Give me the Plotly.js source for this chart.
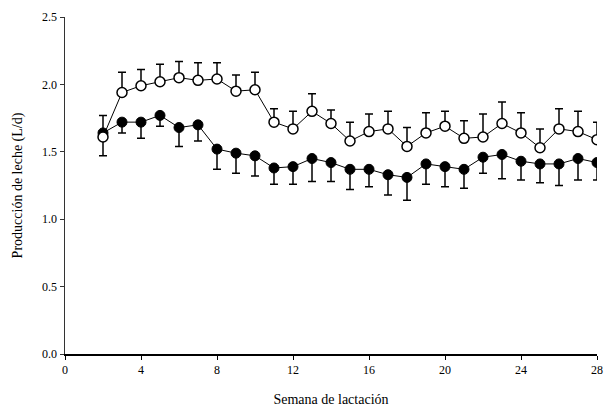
<!DOCTYPE html>
<html>
<head>
<meta charset="utf-8">
<script src="https://cdn.plot.ly/plotly-3.0.1.min.js"></script>
<style>html,body{margin:0;padding:0;background:#fff}#chart{width:606px;height:412px}</style>
</head>
<body>
<div id="chart"></div>
<script>
var weeks = [2,3,4,5,6,7,8,9,10,11,12,13,14,15,16,17,18,19,20,21,22,23,24,25,26,27,28];
var openMean = [1.61,1.94,1.99,2.02,2.05,2.03,2.04,1.95,1.96,1.72,1.67,1.80,1.71,1.58,1.65,1.67,1.54,1.64,1.69,1.60,1.61,1.71,1.64,1.53,1.67,1.65,1.59];
var openErr  = [0.16,0.15,0.12,0.13,0.12,0.13,0.12,0.12,0.13,0.10,0.13,0.13,0.10,0.14,0.13,0.13,0.14,0.15,0.11,0.13,0.17,0.16,0.15,0.14,0.15,0.15,0.13];
var filledMean = [1.64,1.72,1.72,1.77,1.68,1.70,1.52,1.49,1.47,1.38,1.39,1.45,1.42,1.37,1.37,1.33,1.31,1.41,1.39,1.37,1.46,1.48,1.43,1.41,1.41,1.45,1.42];
var filledErr  = [0.17,0.08,0.12,0.08,0.14,0.12,0.15,0.15,0.15,0.12,0.13,0.17,0.14,0.15,0.13,0.15,0.17,0.15,0.15,0.14,0.12,0.18,0.14,0.14,0.16,0.16,0.13];
var xTicks = [0,4,8,12,16,20,24,28];
var yTicks = [0,0.5,1.0,1.5,2.0,2.5];
var yTickText = ['0.0','0.5','1.0','1.5','2.0','2.5'];

var zeros = weeks.map(function(){return 0;});

var traces = [
  {
    x: weeks, y: filledMean, type: 'scatter', mode: 'lines+markers',
    line: {color: '#000', width: 1},
    marker: {symbol: 'circle', size: 10, color: '#000', line: {color: '#000', width: 1}},
    error_y: {type: 'data', symmetric: false, array: zeros, arrayminus: filledErr, color: '#000', thickness: 1.5, width: 4},
    showlegend: false, hoverinfo: 'x+y'
  },
  {
    x: weeks, y: openMean, type: 'scatter', mode: 'lines+markers',
    line: {color: '#000', width: 1},
    marker: {symbol: 'circle', size: 10, color: '#fff', line: {color: '#000', width: 1.5}},
    error_y: {type: 'data', symmetric: false, array: openErr, arrayminus: zeros, color: '#000', thickness: 1.5, width: 4},
    showlegend: false, hoverinfo: 'x+y'
  }
];

var fam = '"Liberation Serif", "Times New Roman", serif';
var tickFont = {family: fam, size: 12, color: '#000'};

var layout = {
  width: 606, height: 412,
  margin: {l: 65, r: 9, t: 17, b: 58},
  paper_bgcolor: '#fff', plot_bgcolor: '#fff',
  font: tickFont,
  showlegend: false,
  xaxis: {
    range: [0, 28], tickvals: xTicks, ticktext: xTicks.map(String),
    showgrid: false, zeroline: false, showline: true, linecolor: '#000', linewidth: 1.5,
    ticks: 'outside', ticklen: 4, tickcolor: '#000', tickwidth: 1,
    tickfont: tickFont,
    title: {text: 'Semana de lactación', font: {family: fam, size: 14, color: '#000'}, standoff: 18},
    automargin: false
  },
  yaxis: {
    range: [0, 2.5], tickvals: yTicks, ticktext: yTickText,
    showgrid: false, zeroline: false, showline: true, linecolor: '#333', linewidth: 1.5,
    ticks: 'outside', ticklen: 4, tickcolor: '#333', tickwidth: 1,
    tickfont: tickFont,
    title: {text: 'Producción de leche (L/d)', font: {family: fam, size: 14, color: '#000'}, standoff: 16},
    automargin: false
  }
};

Plotly.newPlot('chart', traces, layout, {displayModeBar: false, staticPlot: true});
</script>
</body>
</html>
